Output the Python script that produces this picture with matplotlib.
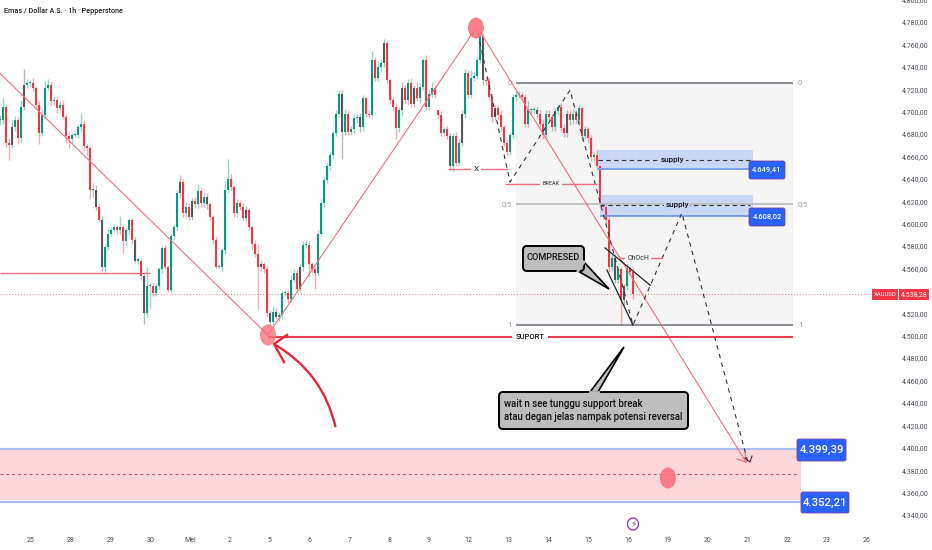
import numpy as np
import matplotlib
matplotlib.use("Agg")
import matplotlib.pyplot as plt
from matplotlib.patches import Ellipse, FancyBboxPatch, Polygon, Rectangle, FancyArrowPatch

plt.rcParams["font.family"] = ["Roboto", "DejaVu Sans"]

# candle closes, one every 3 px
closes = [
    4693, 4705, 4673, 4671, 4687, 4693, 4677, 4705, 4725, 4726,
    4726, 4722, 4707, 4682, 4698, 4722, 4725, 4710, 4711, 4704,
    4707, 4696, 4679, 4676, 4680, 4680, 4687, 4690, 4670, 4668,
    4631, 4631, 4616, 4604, 4562, 4580, 4592, 4595, 4598, 4595,
    4598, 4585, 4595, 4604, 4586, 4568, 4568, 4554, 4521, 4545,
    4545, 4539, 4545, 4560, 4579, 4562, 4542, 4590, 4598, 4628,
    4638, 4610, 4616, 4607, 4621, 4618, 4630, 4619, 4625, 4618,
    4607, 4586, 4562, 4562, 4577, 4631, 4641, 4634, 4610, 4619,
    4616, 4606, 4613, 4598, 4583, 4574, 4562, 4565, 4560, 4521,
    4513, 4522, 4518, 4519, 4539, 4539, 4534, 4551, 4557, 4543,
    4562, 4582, 4582, 4565, 4560, 4557, 4592, 4619, 4640, 4652,
    4662, 4682, 4699, 4717, 4683, 4699, 4683, 4685, 4695, 4696,
    4687, 4713, 4699, 4698, 4747, 4731, 4741, 4744, 4762, 4729,
    4711, 4705, 4686, 4702, 4722, 4711, 4726, 4708, 4722, 4713,
    4723, 4747, 4705, 4717, 4722, 4716, 4698, 4682, 4685, 4679,
    4652, 4679, 4655, 4673, 4699, 4735, 4716, 4731, 4733, 4747,
    4768, 4729, 4728, 4714, 4696, 4704, 4698, 4687, 4673, 4665,
    4680, 4714, 4716, 4716, 4714, 4690, 4702, 4702, 4702, 4699,
    4690, 4680, 4699, 4696, 4687, 4701, 4705, 4686, 4682, 4699,
    4693, 4699, 4693, 4704, 4679, 4685, 4677, 4660, 4662, 4652,
    4619, 4616, 4604, 4562, 4570, 4551, 4560, 4533, 4545, 4561,
    4558, 4538.28,
]
wick_up = [
    5, 8, 3, 4, 6, 4, 3, 6, 14, 4,
    3, 5, 2, 3, 5, 6, 5, 3, 4, 3,
    3, 4, 3, 3, 2, 3, 3, 10, 3, 2,
    3, 6, 4, 3, 4, 3, 5, 3, 3, 2,
    10, 2, 2, 2, 2, 3, 3, 2, 2, 17,
    3, 3, 3, 2, 2, 3, 2, 2, 3, 3,
    6, 3, 4, 3, 3, 4, 6, 3, 3, 3,
    2, 2, 3, 2, 2, 8, 18, 4, 2, 4,
    3, 3, 4, 2, 2, 3, 9, 3, 2, 3,
    3, 5, 4, 3, 2, 3, 3, 4, 3, 3,
    3, 3, 4, 3, 2, 3, 3, 4, 3, 3,
    3, 2, 3, 3, 3, 4, 2, 3, 4, 3,
    4, 3, 2, 3, 8, 3, 5, 3, 4, 3,
    2, 3, 4, 3, 5, 3, 4, 5, 3, 5,
    3, 2, 4, 3, 5, 3, 0, 3, 2, 3,
    3, 3, 4, 3, 3, 4, 3, 7, 3, 3,
    8, 3, 3, 4, 3, 3, 3, 4, 2, 3,
    3, 3, 3, 3, 2, 3, 8, 2, 3, 3,
    3, 4, 3, 3, 3, 3, 3, 4, 4, 3,
    3, 4, 3, 3, 2, 3, 2, 3, 3, 5,
    3, 4, 2, 3, 3, 4, 2, 2, 2, 4,
    2, 3,
]
wick_dn = [
    4, 3, 4, 13, 3, 3, 5, 4, 3, 3,
    3, 3, 3, 10, 3, 3, 2, 4, 3, 4,
    3, 2, 6, 8, 4, 2, 3, 3, 4, 6,
    8, 6, 3, 2, 3, 4, 3, 2, 2, 3,
    3, 10, 4, 3, 3, 2, 3, 3, 10, 3,
    20, 3, 3, 2, 3, 2, 2, 3, 4, 3,
    4, 3, 4, 3, 3, 3, 3, 3, 3, 4,
    3, 3, 2, 2, 3, 3, 3, 4, 3, 3,
    3, 3, 3, 3, 6, 3, 37, 3, 3, 3,
    4, 3, 2, 4, 3, 3, 4, 3, 2, 3,
    2, 3, 3, 12, 3, 14, 3, 2, 3, 3,
    3, 3, 3, 3, 24, 3, 3, 3, 3, 4,
    4, 3, 3, 3, 3, 3, 3, 4, 3, 3,
    3, 4, 10, 3, 4, 3, 4, 3, 3, 3,
    4, 3, 3, 3, 3, 3, 3, 3, 3, 3,
    3, 4, 3, 3, 3, 4, 3, 3, 3, 3,
    3, 4, 3, 3, 4, 3, 4, 3, 3, 3,
    3, 3, 4, 3, 3, 3, 3, 3, 3, 3,
    3, 4, 4, 3, 3, 3, 3, 3, 4, 4,
    4, 3, 3, 4, 4, 3, 4, 3, 3, 3,
    3, 3, 3, 4, 3, 3, 3, 21, 6, 3,
    3, 5,
]
dark_bars = [4, 8, 32, 34, 45, 48, 60, 64, 69, 82, 87, 90, 92, 100, 114, 120,
             128, 134, 138, 150, 154, 161, 165, 179, 189, 205, 208]
weekend_bar, weekend_open = 146, 4702

# 4.540 sits behind the last price tag
y_tick_prices = [p for p in range(4340, 4801, 20) if p != 4540]
x_tick_labels = ["25", "28", "29", "30", "Mei", "2", "5", "6", "7", "8", "9", "12",
                 "13", "14", "15", "16", "19", "20", "21", "22", "23", "26"]
x_tick_bars = 10.3 + 13.27 * np.arange(len(x_tick_labels))

# levels
last_price = 4538.28
fib_levels = {"0": 4726.4, "0,5": 4618.4, "1": 4510.4}
support = 4500
supply_top = [4666.6, 4626.5]
supply_mid = [4657.7, 4617.5]
supply_bot = [4649.41, 4608.02]
zone_top, zone_mid, zone_bot = 4399.39, 4377.5, 4352.21

# drawings, (bar, price)
swing_pink = [(0, 4735), (89.3, 4501.5), (158.7, 4775.5)]
swing_down = [(160.3, 4771), (248.7, 4388)]
zigzag = [(159.3, 4771), (170, 4638), (190, 4720), (211, 4510.4),
          (227.3, 4610.4), (249.3, 4388)]
wedge_top = [(201.7, 4579.2), (216.7, 4546)]
wedge_bot = [(202.3, 4559.5), (211, 4510.4)]

RED = "#f23645"
GREEN = "#089981"
PINK = "#ef6f7f"
BLUE = "#2962ff"
TICK = "#4a4d57"

fig = plt.figure(figsize=(9.32, 5.5), dpi=100)
ax = fig.add_axes([0, 0, 1, 1])
ax.set_xlim(0, 932 / 3)
ax.set_ylim(4800.5 - 0.8925 * 550, 4800.5)
ax.axis("off")

# zone and fib backgrounds go under the candles
ax.add_patch(Rectangle((172, fib_levels["1"]), 92.3, fib_levels["0"] - fib_levels["1"],
                       color="#f5f5f5", lw=0, zorder=0))
ax.add_patch(Rectangle((0, zone_bot + 2), 267, zone_top - zone_bot - 2,
                       color="#fdd6da", lw=0, zorder=0))

c = np.array(closes, dtype=float)
o = np.r_[c[0], c[:-1]]
o[weekend_bar] = weekend_open
bars = np.arange(len(c))
colors = np.where(c >= o, GREEN, RED).astype(object)
colors[dark_bars] = "#55585c"
top = np.maximum(o, c)
bot = np.minimum(o, c)

ax.vlines(bars, bot - np.array(wick_dn), top + np.array(wick_up), colors=list(colors),
          lw=1.0, alpha=0.42, zorder=2)
ax.bar(bars, np.maximum(top - bot, 1), bottom=bot, width=0.68, color=list(colors),
       lw=0, zorder=3)

# last price
ax.hlines(last_price, 0, 872 / 3, color=RED, lw=0.7, ls=(0, (1, 2)), alpha=0.7, zorder=1)

# fib lines
fib_colors = {"0": "#787b86", "0,5": "#b8b8b8", "1": "#787b86"}
for name, lvl in fib_levels.items():
    ax.hlines(lvl, 172, 264.3, color=fib_colors[name], lw=1.2, zorder=4)
    ax.text(170.5, lvl, name, ha="right", va="center", fontsize=5.5, color="#9a9ca3", zorder=5)
    ax.text(266, lvl, name, ha="left", va="center", fontsize=5.5, color="#9a9ca3", zorder=5)

# supply boxes
for i, (x0, txt_bar) in enumerate(zip([199.3, 200], [224.3, 225.7])):
    ax.add_patch(Rectangle((x0, supply_bot[i]), 250.9 - x0, supply_top[i] - supply_bot[i],
                           color="#c5d5f7", alpha=0.9, lw=0, zorder=2.5))
    ax.hlines(supply_bot[i], x0, 250.9, color="#7d9fe6", lw=1.4, zorder=4)
    ax.hlines(supply_mid[i], x0, 250, color="#333333", lw=0.8, ls=(0, (4, 3)), zorder=4)
    ax.text(txt_bar, supply_mid[i], "supply", ha="center", va="center", fontsize=5.8,
            color="#111111", fontweight="medium", bbox=dict(fc="#c5d5f7", ec="none", pad=1),
            zorder=5)

# swings
ax.plot(*zip(*swing_pink), color=PINK, lw=0.8, zorder=5)
ax.plot(*zip(*swing_down), color=PINK, lw=0.8, zorder=5)
ax.plot(*zip(*zigzag), color="#333333", lw=0.8, ls=(0, (4, 4)), zorder=5)
ax.plot(*zip(*wedge_top), color="#222222", lw=0.9, zorder=5)
ax.plot(*zip(*wedge_bot), color="#222222", lw=0.9, zorder=5)

# small labelled lines
ax.hlines(4557, 0, 50, color=PINK, lw=1.0, zorder=5)
label_box = dict(fc="white", ec="none", pad=1.5)
ax.hlines(4649.7, 149.3, 169.3, color=PINK, lw=1.0, zorder=5)
ax.text(158.7, 4649.7, "X", ha="center", va="center", fontsize=6, color="#222222",
        bbox=label_box, zorder=6)
ax.hlines(4636.3, 168.3, 199, color=PINK, lw=1.0, zorder=5)
ax.text(183.7, 4636.3, "BREAK", ha="center", va="center", fontsize=4, color="#333333",
        bbox=dict(fc="#f5f5f5", ec="none", pad=1.5), zorder=6)
ax.hlines(4570, 206, 221, color=PINK, lw=1.0, zorder=5)
ax.text(212.7, 4570, "ChOcH", ha="center", va="center", fontsize=5, color="#333333",
        bbox=dict(fc="#f5f5f5", ec="none", pad=1.5), zorder=6)
ax.hlines(support, 89.3, 264.3, color="#e0404f", lw=1.5, zorder=5)
ax.text(176.7, support, "SUPORT", ha="center", va="center", fontsize=5.5, color="#111111",
        fontweight="medium", bbox=dict(fc="white", ec="none", pad=2.5), zorder=6)

# zone lines
ax.hlines(zone_top, 0, 265.7, color="#a9c0ef", lw=1.6, zorder=4)
ax.hlines(zone_bot, 0, 267, color="#a9c0ef", lw=1.6, zorder=4)
ax.hlines(zone_mid, 0, 266, color="#c2587a", lw=0.7, ls=(0, (3, 3)), zorder=4)

# axis labels
for p in y_tick_prices:
    txt = f"{p:,.2f}".replace(",", "#").replace(".", ",").replace("#", ".")
    ax.text(915 / 3, p, txt, ha="center", va="center", fontsize=5, color=TICK, zorder=6)
for b, lab in zip(x_tick_bars, x_tick_labels):
    ax.text(b, 4800.5 - 0.8925 * 540, lab, ha="center", va="center", fontsize=5,
            color=TICK, zorder=6)

# overlay in pixels for callouts, tags and markers
ov = fig.add_axes([0, 0, 1, 1], facecolor="none")
ov.set_xlim(0, 932)
ov.set_ylim(550, 0)
ov.axis("off")

ov.text(4, 11, "Emas / Dollar A.S. · 1h · Pepperstone", fontsize=5.2, va="center",
        color="#222222", fontweight="medium")

for cx, cy in [(268, 335), (476, 28), (668, 478)]:
    ov.add_patch(Ellipse((cx, cy), 16, 21, color="#f7727f", alpha=0.9 if cy != 335 else 0.8, lw=0))


def tag(x0, x1, y0, y1, text, size):
    ov.add_patch(FancyBboxPatch((x0 + 2, y0 + 2), x1 - x0 - 4, y1 - y0 - 4,
                                boxstyle="round,pad=2,rounding_size=2", fc=BLUE,
                                ec="#7b3fa0", lw=0.6, zorder=6))
    ov.text((x0 + x1) / 2, (y0 + y1) / 2, text, color="white", fontsize=size,
            ha="center", va="center", fontweight="medium", zorder=7)


tag(749, 785, 161, 179, "4.649,41", 5.4)
tag(749, 785, 208, 226, "4.608,02", 5.4)
tag(797, 846, 439, 461, "4.399,39", 8.2)
tag(801, 849, 492, 513, "4.352,21", 8.2)

ov.add_patch(Rectangle((872, 289), 26, 11, color=RED, lw=0, zorder=6))
ov.add_patch(Rectangle((899, 289), 30, 11, color=RED, lw=0, zorder=6))
ov.text(885, 294.5, "XAUUSD", color="white", fontsize=4.3, ha="center", va="center", zorder=7)
ov.text(914, 294.5, "4.538,28", color="white", fontsize=5, ha="center", va="center", zorder=7)


def callout(x0, x1, y0, y1, tail):
    ov.add_patch(Polygon(tail, closed=True, fc="#bdbdbd", ec="black", lw=1.2, zorder=7))
    ov.add_patch(FancyBboxPatch((x0 + 4, y0 + 4), x1 - x0 - 8, y1 - y0 - 8,
                                boxstyle="round,pad=4,rounding_size=4", fc="#bdbdbd",
                                ec="black", lw=1.4, zorder=7))
    ov.plot([tail[0][0], tail[2][0]], [tail[0][1], tail[2][1]], color="#bdbdbd", lw=2,
            zorder=8)


callout(523, 584, 246, 271, [(578, 271), (609, 289), (584, 262)])
ov.text(553.5, 258, "COMPRESED", fontsize=6.6, ha="center", va="center", color="#111111",
        fontweight="medium", zorder=9)
callout(499, 688, 392, 429, [(590, 392), (624, 347), (598, 392)])
ov.text(504, 404, "wait n see tunggu support break", fontsize=6.9, va="center",
        color="#111111", fontweight="medium", zorder=9)
ov.text(504, 417, "atau degan jelas nampak potensi reversal", fontsize=6.9, va="center",
        color="#111111", fontweight="medium", zorder=9)

# red curved arrow
ov.add_patch(FancyArrowPatch((336, 429), (274, 344), connectionstyle="arc3,rad=0.22",
                             arrowstyle="-", color="#e02a3c", lw=1.7, zorder=7))
ov.plot([287, 274, 284], [335, 344, 362], color="#e02a3c", lw=1.7, zorder=7)

# pink and dashed arrow heads
ov.plot([737, 746, 745], [459, 462, 453], color=PINK, lw=0.8, zorder=6)
ov.plot([745, 750, 752], [458, 462, 456], color="#333333", lw=0.8, zorder=6)

# lightning badge
ov.add_patch(Ellipse((633, 524), 11, 12, fc="none", ec="#9c3fc4", lw=1, zorder=6))
ov.text(633, 524, "⚡", family="DejaVu Sans", fontsize=6.5, color="#9c3fc4", ha="center",
        va="center", zorder=7)

fig.savefig("out.png", dpi=100)
